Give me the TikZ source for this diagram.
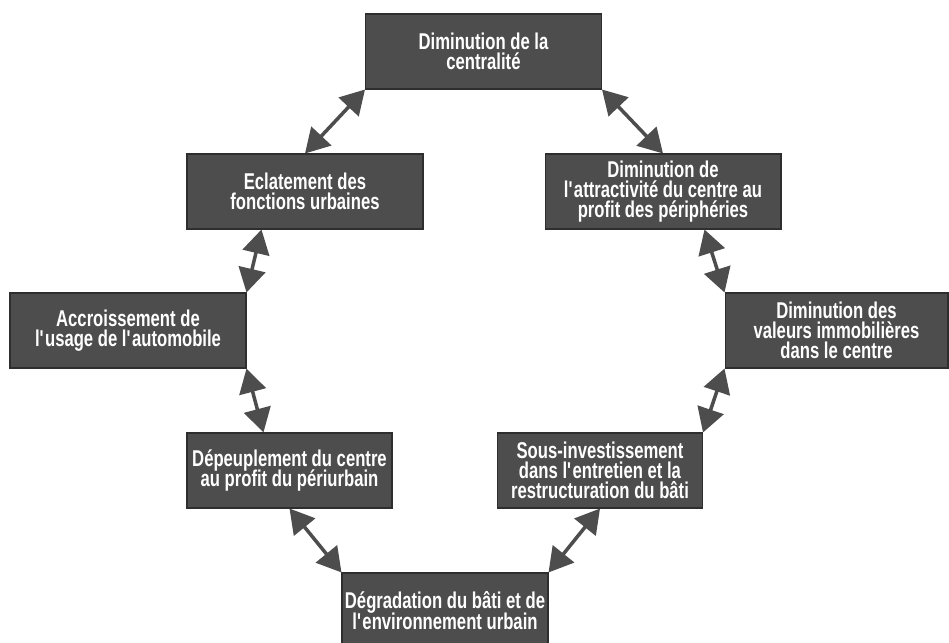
\documentclass[tikz,border=0pt]{standalone}
\usepackage{fontspec}
\setmainfont{Liberation Sans}[FakeStretch=0.73]
\usetikzlibrary{arrows.meta}
\definecolor{boxgrey}{HTML}{4D4D4D}
\definecolor{edgegrey}{HTML}{2E2E2E}
\newcommand{\ap}{\textquotesingle}
\newcommand{\boxfont}{\bfseries\fontsize{13}{11.5}\selectfont\lineskiplimit=-6pt\relax}
\tikzset{
  cause/.style={draw=edgegrey,line width=0.6pt,fill=boxgrey,text=white,align=center,
    minimum width=4.72cm,minimum height=1.5cm,inner sep=0pt,font=\boxfont},
  link/.style={<->,>={Triangle[length=0.48cm,width=0.54cm]},line width=2pt,draw=boxgrey}
}
\begin{document}
\begin{tikzpicture}[x=0.02cm,y=-0.02cm]
                \useasboundingbox (0,0) rectangle (949,642);
                \node[cause] (top) at (483.5,51.5) {Diminution de la\\centralit\'e};
                \node[cause] (ecl) at (305,191.5) {Eclatement des\\fonctions urbaines};
                \node[cause] (attr) at (663,191.5) {Diminution de\\l\ap{}attractivit\'e du centre au\\profit des p\'eriph\'eries};
                \node[cause] (acc) at (128,330.5) {Accroissement de\\l\ap{}usage de l\ap{}automobile};
                \node[cause,minimum width=4.46cm] (val) at (836.5,330.5) {Diminution des\\valeurs immobili\`eres\\dans le centre};
                \node[cause,minimum width=4.1cm] (dep) at (289.5,470.5) {D\'epeuplement du centre\\au profit du p\'eriurbain};
                \node[cause,minimum width=4.1cm] (sous) at (600,470.5) {Sous-investissement\\dans l\ap{}entretien et la\\restructuration du b\^ati};
                \node[cause,minimum width=4.12cm] (deg) at (445,610.5) {D\'egradation du b\^ati et de\\l\ap{}environnement urbain};
                \draw[link] (top.south west)--(ecl.north);
                \draw[link] (top.south east)--(attr.north);
                \draw[link] ([xshift=1.5cm]ecl.south west)--(acc.north east);
                \draw[link] ([xshift=3.2cm]attr.south west)--(val.north west);
                \draw[link] (acc.south east)--([xshift=1.54cm]dep.north west);
                \draw[link] (val.south west)--(sous.north east);
                \draw[link] (dep.south)--(deg.north west);
                \draw[link] (sous.south)--(deg.north east);
            \end{tikzpicture}
\end{document}
